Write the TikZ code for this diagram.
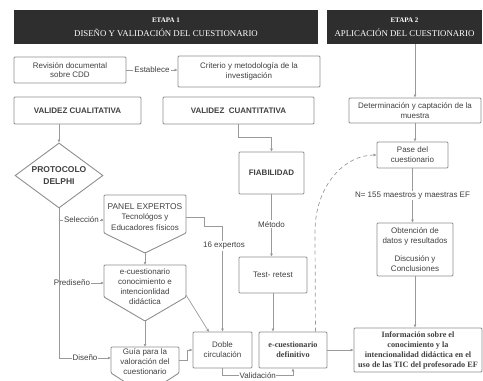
\documentclass[tikz,border=0pt]{standalone}
\usepackage{fontspec}
\setmainfont{Liberation Sans}
\newfontfamily\serifb{Liberation Serif}
\usetikzlibrary{shapes.geometric,arrows.meta}
\definecolor{bx}{HTML}{8E8E8E}
\definecolor{tx}{HTML}{404040}
\definecolor{hd}{HTML}{2E2E2E}
\definecolor{ln}{HTML}{9A9A9A}
\begin{document}
\begin{tikzpicture}[x=1pt,y=-1pt,
  box/.style={draw=bx, line width=0.9pt, rounded corners=1pt, text=tx, align=center,
    inner sep=1pt, font=\fontsize{8}{9.8}\selectfont},
  hdr/.style={fill=hd, draw=none, text=white, align=center, inner sep=1pt},
  txt/.style={text=tx, align=center, inner sep=1pt, font=\fontsize{8}{10}\selectfont},
  lbl/.style={text=tx, fill=white, inner sep=1pt, font=\fontsize{8}{9}\selectfont},
  shp/.style={draw=bx, line width=0.9pt, rounded corners=1pt},
  con/.style={draw=ln, line width=0.7pt},
  arr/.style={draw=ln, line width=0.7pt, -{Latex[length=3pt,width=3pt]}},
  bsans/.style={font=\fontsize{8}{9}\selectfont\bfseries},
  bserif/.style={font=\fontsize{8.2}{10}\selectfont\serifb\bfseries}
]
\useasboundingbox (0,0) rectangle (483,381);
\clip (0,0) rectangle (483,381);

% headers
\node[hdr, minimum width=304pt, minimum height=34pt] (h1) at (166,27)
  {{\fontsize{7}{8}\selectfont\serifb\bfseries ETAPA 1}\\[2pt]{\fontsize{8.8}{10}\selectfont\serifb DISEÑO Y VALIDACIÓN DEL CUESTIONARIO}};
\node[hdr, minimum width=155pt, minimum height=34pt] (h2) at (404.5,27)
  {{\fontsize{7}{8}\selectfont\serifb\bfseries ETAPA 2}\\[2pt]{\fontsize{8.8}{10}\selectfont\serifb APLICACIÓN DEL CUESTIONARIO}};

% boxes
\node[box, minimum width=112pt, minimum height=26pt] (rev) at (70,70) {Revisión documental\\sobre CDD};
\node[box, minimum width=142pt, minimum height=31pt] (crit) at (249,71.5) {Criterio y metodología de la\\investigación};
\node[box, bsans, minimum width=127pt, minimum height=27pt] (vqual) at (77.5,110.5) {VALIDEZ CUALITATIVA};
\node[box, bsans, minimum width=151pt, minimum height=27pt] (vquan) at (238.5,110.5) {VALIDEZ\ \ CUANTITATIVA};
\node[box, minimum width=132pt, minimum height=25pt] (det) at (415,110.5) {Determinación y captación de la\\muestra};
\node[box, minimum width=71pt, minimum height=26pt] (pase) at (412.5,155) {Pase del\\cuestionario};
\node[box, minimum width=76pt, minimum height=53pt] (obt) at (415,249.5) {Obtención de\\datos y resultados\\[8pt]Discusión y\\Conclusiones};
\node[box, bserif, minimum width=128pt, minimum height=44pt] (info) at (418,350)
  {Información sobre el\\conocimiento y la\\intencionalidad didáctica en el\\uso de las TIC del profesorado EF};
\node[box, minimum width=59pt, minimum height=36pt] (doble) at (222.5,350) {Doble\\circulación};
\node[box, bsans, minimum width=65pt, minimum height=42pt] (fiab) at (271.5,173) {FIABILIDAD};
\node[box, minimum width=68pt, minimum height=36pt] (test) at (273,275) {Test- retest};
\node[box, bserif, minimum width=68pt, minimum height=36pt] (ecudef) at (293,350) {e-cuestionario\\definitivo};

% diamond
\node[draw=bx, line width=0.9pt, diamond, aspect=1.35, minimum width=88pt, minimum height=65pt,
  text=tx, align=center, inner sep=0pt, font=\fontsize{8.5}{12}\selectfont\bfseries] (delphi) at (59,175.5) {PROTOCOLO\\DELPHI};

% pentagons
\draw[shp] (104,195) -- (186,195) -- (186,233) -- (145,253) -- (104,233) -- cycle;
\node[txt, font=\fontsize{8}{10.5}\selectfont] (panel) at (145,217) {{\fontsize{8.4}{10}\selectfont PANEL EXPERTOS}\\Tecnológos y\\Educadores físicos};
\coordinate (panelW) at (104,220);
\coordinate (panelE) at (186,217);
\coordinate (panelS) at (145,253);

\draw[shp] (104,265) -- (186,265) -- (186,297) -- (145,321) -- (104,297) -- cycle;
\node[txt] (ecu) at (145,287) {e-cuestionario\\conocimiento e\\intencionlidad\\didáctica};
\coordinate (ecuN) at (145,265);
\coordinate (ecuW) at (104,283);
\coordinate (ecuE) at (186,295);
\coordinate (ecuS) at (145,321);

\draw[shp] (111,347) -- (179,347) -- (179,373) -- (145,395) -- (111,373) -- cycle;
\node[txt] (guia) at (145,362) {Guía para la\\valoración del\\cuestionario};
\coordinate (guiaN) at (145,347);
\coordinate (guiaW) at (111,358);
\coordinate (guiaE) at (179,360);
\coordinate (dobleTL) at (209,332);

% connectors
\draw[arr] (det.north |- h2.south) -- (det.north);
\draw[arr] (rev.east) -- node[lbl] {Establece} (crit.west |- rev.east);
\draw[arr] (delphi.north |- vqual.south) -- (delphi.north);
\draw[arr] (delphi.south) |- node[lbl, pos=0.75] {Selección} (panelW);
\draw[arr] (delphi.south) |- (ecuW);
\node[lbl] at (72,283) {Prediseño};
\draw[arr] (delphi.south) |- node[lbl, pos=0.75] {Diseño} (guiaW);
\draw[arr] (panelS) -- (ecuN);
\draw[arr] (ecuS) -- (guiaN);
\draw[arr] (ecuE) -- (dobleTL);
\draw[arr] (panelE) -- ++(18,0) -- ++(0,9) -| (doble.north);
\node[lbl] at (224,246) {16 expertos};
\draw[arr] (guiaE) -- ++(8,0) |- (doble.west);
\draw[arr] (vquan.south) -- ++(0,13) -| (fiab.north);
\draw[arr] (fiab.south) -- node[lbl, pos=0.48] {Método} (fiab.south |- test.north);
\draw[arr] (test.south) -- (test.south |- ecudef.north);
\draw[arr, dashed, dash pattern=on 4pt off 3pt] ([xshift=-12pt]ecudef.north east) -- (315,232)
  .. controls (315,185) and (345,155) .. (pase.west);
\draw[arr] (ecudef.east) -- (info.west);
\draw[arr] (doble.south) -- ++(0,7) -| node[lbl, pos=0.25, inner sep=0.5pt] {Validación} (ecudef.south);
\draw[arr] (det.south) -- (det.south |- pase.north);
\draw[arr] (pase.south) -- node[lbl, pos=0.5] {N= 155 maestros y maestras EF} (pase.south |- obt.north);
\draw[arr] (obt.south) -- (obt.south |- info.north);
\end{tikzpicture}
\end{document}
